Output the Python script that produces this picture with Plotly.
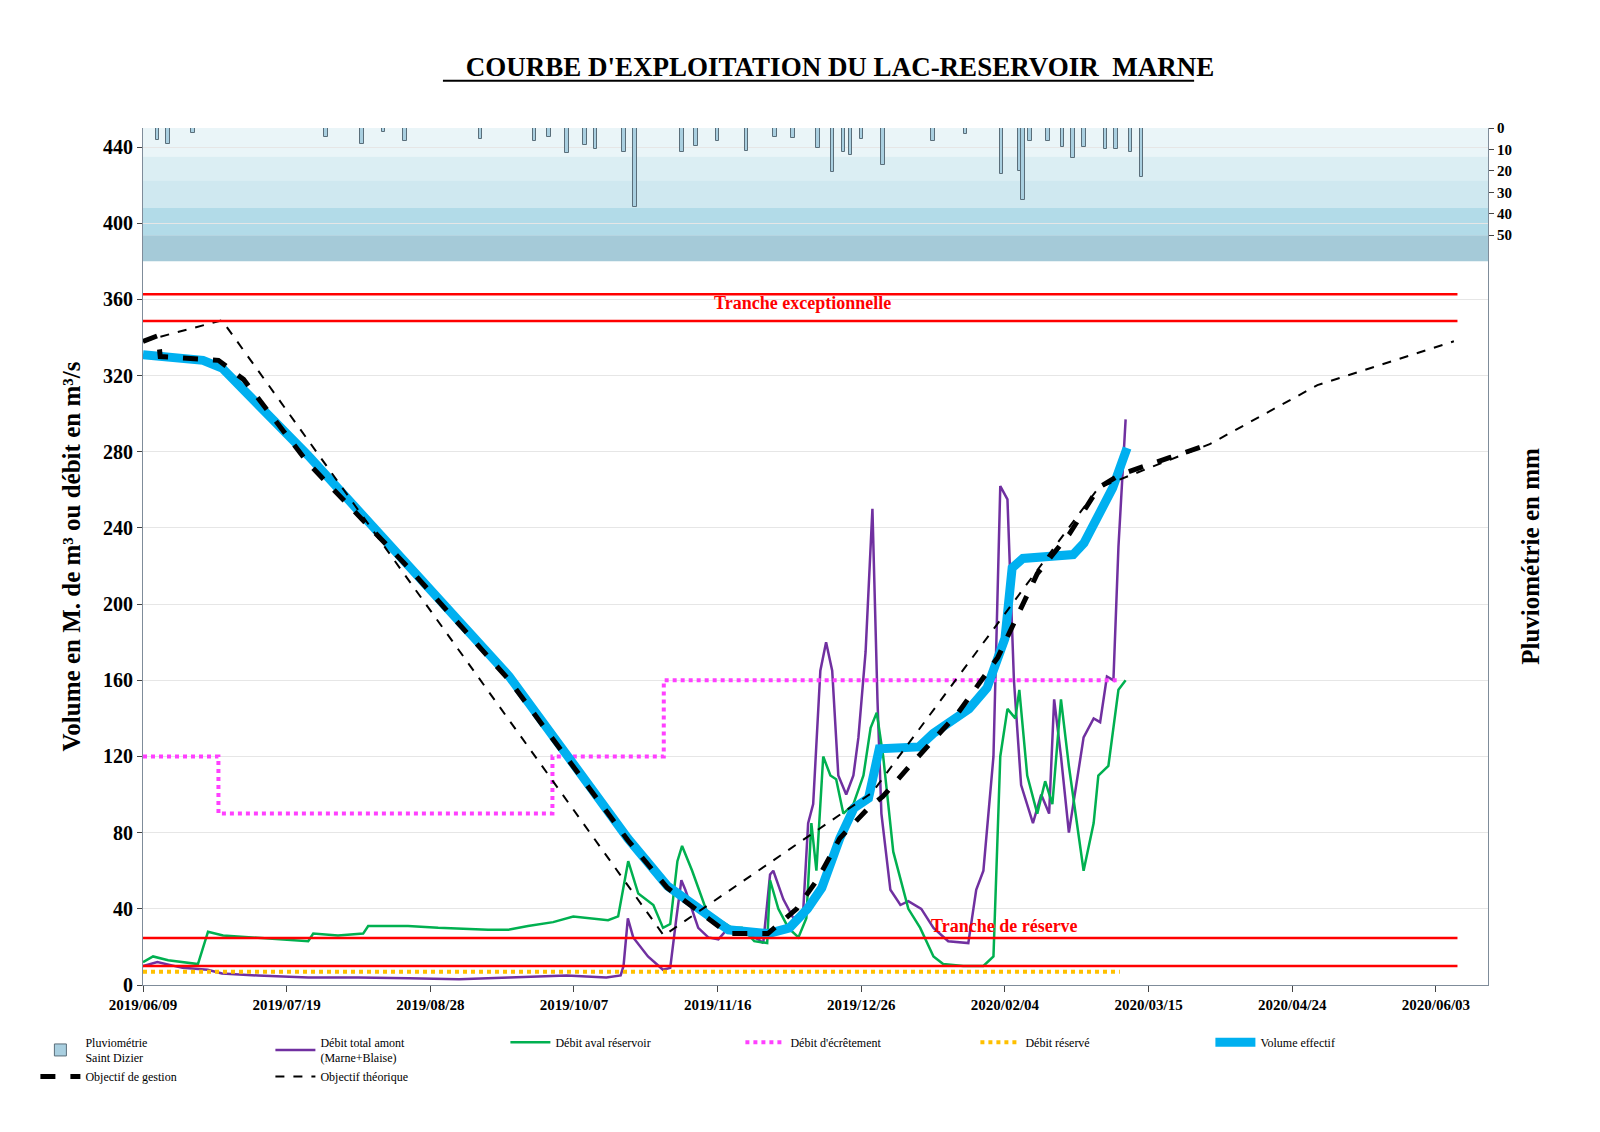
import plotly.graph_objects as go
import pandas as pd

START = pd.Timestamp("2019-06-09")
def D(days):
    return [START + pd.Timedelta(days=float(d)) for d in days]

# Pluviométrie (day offset, mm)
rain_days = [4, 7, 14, 51, 61, 67, 73, 94, 109, 113, 118, 123, 126, 134, 137, 150, 154, 160, 168, 176, 181, 188, 192, 195, 197, 200, 206, 220, 229, 239, 244, 245, 247, 252, 256, 259, 262, 268, 271, 275, 278]
rain_mm = [5.5, 7.5, 2.5, 4, 7.5, 2, 6, 5, 6, 4, 11.7, 8, 10, 11.4, 37, 11, 8.5, 6, 10.5, 4, 4.5, 9.5, 20.5, 11, 12.5, 5, 17.5, 6, 3, 21.5, 20, 33.5, 6, 6, 9, 14, 9, 10, 10, 11, 23]

# Débit total amont (Marne+Blaise)
amont_days = [0, 4, 11, 18, 22, 32, 46, 60, 74, 88, 102, 118, 129, 133, 133.8, 135, 136.5, 140.6, 144.8, 146.8, 148.5, 149.9, 151, 154.6, 157.4, 160.2, 163, 167.1, 171.3, 172.7, 174.6, 175.5, 178.3, 181.1, 183.8, 185.2, 186.6, 188.6, 190.2, 191.9, 193.6, 195.8, 197.8, 199.2, 201.2, 203.1, 204.5, 205.6, 208.1, 210.9, 213.1, 216.7, 220.1, 224.2, 229.8, 232.0, 234, 236.8, 238.7, 240.7, 242.5, 244.5, 247.8, 250.1, 252.3, 253.7, 255.6, 257.8, 261.9, 264.7, 266.5, 268.4, 270.2, 271.6, 273.6]
amont_v = [10, 12, 9, 8, 6, 5, 4, 4, 3.5, 3, 4, 5, 4, 5, 10, 35, 25, 15, 8, 9, 35, 55, 50, 30, 25, 24, 30, 28, 24, 22, 58, 60, 45, 35, 38, 85, 95, 165, 180, 165, 110, 100, 110, 130, 175, 250, 150, 90, 50, 42, 44, 40, 30, 23, 22, 50, 60, 120, 262, 255, 160, 105, 85, 100, 90, 150, 120, 80, 130, 140, 138, 162, 160, 230, 297]

# Débit aval réservoir
aval_days = [0, 2.8, 7, 15.3, 18.1, 22.3, 46, 47.4, 54.3, 61.3, 62.7, 73.8, 82.2, 96.1, 101.7, 107.2, 114.2, 119.8, 129.5, 132.3, 135.1, 137.9, 142.1, 144.8, 146.8, 148.8, 150.1, 152.9, 157.1, 161.3, 164, 166.8, 170.2, 173.8, 174.6, 176.9, 179.7, 182.5, 184.7, 186.1, 187.5, 189.4, 191.4, 193.0, 195.0, 197.8, 200.6, 202.6, 204.3, 206.1, 208.9, 213.1, 216.4, 220.1, 222.8, 228.4, 234, 236.8, 238.7, 240.7, 242.9, 244.0, 246.2, 249.0, 251.2, 253.2, 255.6, 257.8, 261.9, 264.7, 266, 268.8, 270.2, 271.6, 273.6]
aval_v = [12, 15, 13, 11, 28, 26, 23, 27, 26, 27, 31, 31, 30, 29, 29, 31, 33, 36, 34, 36, 65, 48, 42, 30, 32, 65, 73, 60, 38, 33, 30, 30, 23, 22, 55, 40, 30, 25, 35, 85, 60, 120, 110, 108, 90, 95, 110, 135, 143, 120, 70, 40, 30, 15, 11, 10, 10, 15, 120, 145, 140, 155, 110, 90, 107, 95, 150, 115, 60, 85, 110, 115, 135, 155, 160]

# Débit d'écrêtement
ecr_days = [0, 21, 21.01, 114, 114.01, 145, 145.01, 272]
ecr_v = [120, 120, 90, 90, 120, 120, 160, 160]

# Débit réservé
res_days = [0, 272]
res_v = [7, 7]

# Volume effectif
vol_days = [0, 16.7, 22, 46, 74, 102, 135, 146, 163, 174, 180, 185, 189, 194, 198, 202, 205, 216, 220, 230, 235, 240, 242, 245, 259, 262, 270, 274]
vol_v = [331, 328, 324, 278, 220, 162, 77, 52, 29, 27, 30, 40, 51, 77, 93, 98, 124, 125, 132, 145, 156, 182, 219, 224, 226, 232, 261, 282]

# Objectif de gestion
ges_days = [0, 4.2, 4.8, 21, 28, 46, 74, 102, 135, 146, 163, 174, 182, 188, 194, 202, 206, 213, 227, 238, 249, 258, 266, 272, 286, 297]
ges_v = [338, 341, 330, 328, 318, 274, 219, 160, 76, 51, 27, 27, 40, 56, 77, 93, 99, 114, 143, 172, 216, 237, 261, 268, 277, 284]

# Objectif théorique
the_days = [0, 22, 145, 203, 266, 297, 327, 365]
the_v = [338, 349, 26, 101, 261, 284, 315, 338]

LINE_END = 366
serif = "Liberation Serif"

fig = go.Figure()
fig.add_trace(go.Bar(x=D(rain_days), y=rain_mm, yaxis="y2", name="Pluviométrie<br>Saint Dizier",
                     marker=dict(color="#a9cfe0", line=dict(color="#5a6e7a", width=1)), width=86400000*1.0))
fig.add_trace(go.Scatter(x=D(amont_days), y=amont_v, mode="lines", name="Débit total amont<br>(Marne+Blaise)",
                         line=dict(color="#7030a0", width=2.5)))
fig.add_trace(go.Scatter(x=D(aval_days), y=aval_v, mode="lines", name="Débit aval réservoir",
                         line=dict(color="#00b050", width=2.5)))
fig.add_trace(go.Scatter(x=D(ecr_days), y=ecr_v, mode="lines", name="Débit d'écrêtement",
                         line=dict(color="#ff40ff", width=4, dash="dot")))
fig.add_trace(go.Scatter(x=D(res_days), y=res_v, mode="lines", name="Débit réservé",
                         line=dict(color="#ffc000", width=4, dash="dot")))
fig.add_trace(go.Scatter(x=D(vol_days), y=vol_v, mode="lines", name="Volume effectif",
                         line=dict(color="#00b0f0", width=9)))
fig.add_trace(go.Scatter(x=D(ges_days), y=ges_v, mode="lines", name="Objectif de gestion",
                         line=dict(color="black", width=5, dash="dash")))
fig.add_trace(go.Scatter(x=D(the_days), y=the_v, mode="lines", name="Objectif théorique",
                         line=dict(color="black", width=2, dash="dash")))

shapes = []
bands = [(435, 450, "#eaf5f8"), (422.6, 435, "#dbeef3"), (408, 422.6, "#cfe8f0"),
         (393.7, 408, "#b2dbe8"), (380, 393.7, "#a5cad8")]
for y0, y1, c in bands:
    shapes.append(dict(type="rect", xref="paper", yref="y", x0=0, x1=1, y0=y0, y1=y1,
                       fillcolor=c, line=dict(width=0), layer="below"))
for yv in [362.7, 348.6, 24.7, 10]:
    shapes.append(dict(type="line", xref="x", yref="y", x0=START, x1=START + pd.Timedelta(days=LINE_END),
                       y0=yv, y1=yv, line=dict(color="red", width=2.5)))
shapes.append(dict(type="line", xref="paper", yref="paper", x0=0.223, x1=0.7815, y0=1.055, y1=1.055,
                   line=dict(color="black", width=2)))

fig.update_layout(
    width=1600, height=1132, paper_bgcolor="white", plot_bgcolor="white",
    margin=dict(l=135, r=120, t=120, b=155, autoexpand=False),
    font=dict(family=serif, color="black"),
    title=dict(text="<b>COURBE D'EXPLOITATION DU LAC-RESERVOIR  MARNE</b>", x=0.52, xanchor="center",
               y=0.948, yanchor="middle", font=dict(size=27, family=serif)),
    shapes=shapes,
    bargap=0,
    xaxis=dict(type="date", range=[START, START + pd.Timedelta(days=374.5)], tick0=START,
               dtick=40 * 86400000, tickformat="%Y/%m/%d", ticks="outside", ticklen=6,
               showline=True, linecolor="#7f8c9a", showgrid=False, automargin=False,
               tickfont=dict(size=15, family=serif, weight="bold")),
    yaxis=dict(range=[0, 450], tickvals=list(range(0, 441, 40)), ticks="outside",
               showline=True, linecolor="#7f8c9a", gridcolor="#e6e6e6", zeroline=False, automargin=False,
               tickfont=dict(size=20, family=serif, weight="bold"),
               title=dict(text="<b>Volume en M. de m³ ou débit en m³/s</b>", font=dict(size=25, family=serif),
                          standoff=15)),
    yaxis2=dict(overlaying="y", side="right", range=[400, 0], tickvals=[0, 10, 20, 30, 40, 50],
                ticks="outside", showgrid=False, showline=True, linecolor="#7f8c9a", zeroline=False,
                automargin=False, tickfont=dict(size=15, family=serif, weight="bold"),
                title=dict(text="<b>Pluviométrie en mm</b>", font=dict(size=25, family=serif), standoff=10)),
    legend=dict(orientation="h", x=-0.08, xanchor="left", y=-0.05, yanchor="top",
                font=dict(size=12, family=serif), traceorder="normal", itemwidth=40,
                entrywidth=180, bgcolor="rgba(0,0,0,0)"),
    showlegend=True,
)
fig.add_annotation(text="<b>Tranche exceptionnelle</b>", x=START + pd.Timedelta(days=183.5), y=358,
                   xref="x", yref="y", showarrow=False, font=dict(color="red", size=18, family=serif))
fig.add_annotation(text="<b>Tranche de réserve</b>", x=START + pd.Timedelta(days=240), y=31,
                   xref="x", yref="y", showarrow=False, font=dict(color="red", size=18, family=serif))

fig.write_html("out.html")
